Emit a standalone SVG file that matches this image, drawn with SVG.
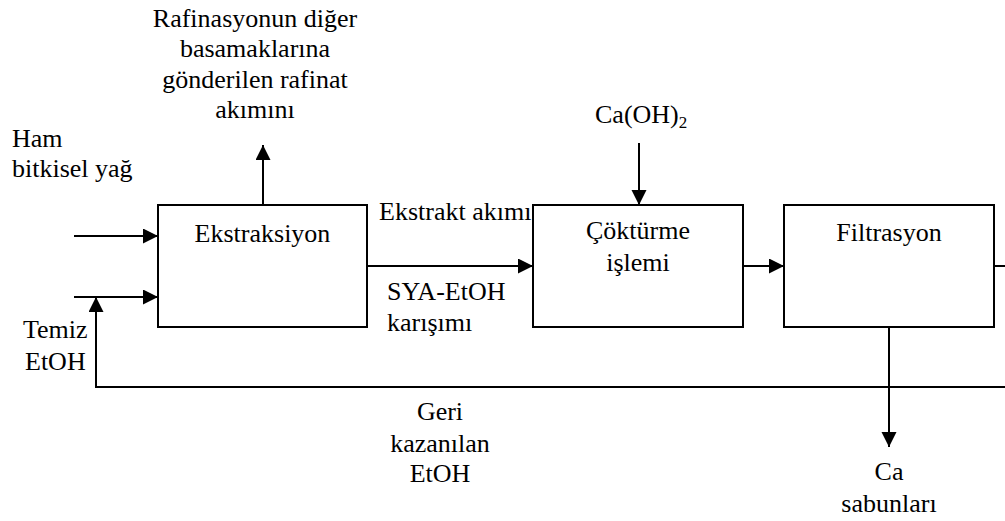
<svg xmlns="http://www.w3.org/2000/svg" width="1005" height="521" viewBox="0 0 1005 521">
  <style>
    text { font-family: 'Liberation Serif', 'Times New Roman', serif; font-size: 26px; fill: #000; }
    .c { text-anchor: middle; }
    .sub { font-size: 17px; }
    .box { fill: #fff; stroke: #000; stroke-width: 2; }
    .ln { fill: none; stroke: #000; stroke-width: 2; }
    .arr { marker-end: url(#ah); }
  </style>
  <defs>
    <marker id="ah" markerUnits="userSpaceOnUse" markerWidth="16" markerHeight="16" refX="15" refY="7.5" orient="auto">
      <path d="M0,0 L15,7.5 L0,15 Z" fill="#000"/>
    </marker>
  </defs>
  <rect width="1005" height="521" fill="#fff"/>

  <g id="labels">
    <text class="c" x="255" y="27">Rafinasyonun diğer</text>
    <text class="c" x="255" y="57">basamaklarına</text>
    <text class="c" x="255" y="88">gönderilen rafinat</text>
    <text class="c" x="255" y="118">akımını</text>
    <text x="12" y="147">Ham</text>
    <text x="12" y="177">bitkisel yağ</text>
    <text x="595" y="123">Ca(OH)<tspan class="sub" dy="5">2</tspan></text>
    <text x="379" y="220">Ekstrakt akımı</text>
    <text x="387" y="300">SYA-EtOH</text>
    <text x="387" y="331">karışımı</text>
    <text x="23" y="338">Temiz</text>
    <text x="25" y="370">EtOH</text>
    <text class="c" x="440" y="420">Geri</text>
    <text class="c" x="440" y="452">kazanılan</text>
    <text class="c" x="440" y="482">EtOH</text>
    <text class="c" x="889" y="480">Ca</text>
    <text class="c" x="889" y="512">sabunları</text>
  </g>

  <g id="connectors">
    <line class="ln arr" x1="74" y1="236" x2="158" y2="236"/>
    <line class="ln arr" x1="74" y1="297" x2="158" y2="297"/>
    <polyline class="ln arr" points="1005,387 96,387 96,297"/>
    <line class="ln" x1="994" y1="266" x2="1005" y2="266"/>
    <line class="ln arr" x1="263" y1="205" x2="263" y2="145"/>
    <line class="ln arr" x1="367" y1="266" x2="533" y2="266"/>
    <line class="ln arr" x1="743" y1="266" x2="784" y2="266"/>
    <line class="ln arr" x1="639" y1="143" x2="639" y2="205"/>
    <line class="ln arr" x1="889" y1="327" x2="889" y2="447"/>
  </g>

  <g id="ekstraksiyon">
    <rect class="box" x="158" y="205" width="209" height="122"/>
    <text class="c" x="262.5" y="242">Ekstraksiyon</text>
  </g>
  <g id="cokturme">
    <rect class="box" x="533" y="205" width="210" height="122"/>
    <text class="c" x="638" y="239">Çöktürme</text>
    <text class="c" x="638" y="271">işlemi</text>
  </g>
  <g id="filtrasyon">
    <rect class="box" x="784" y="205" width="210" height="122"/>
    <text class="c" x="889" y="241">Filtrasyon</text>
  </g>
</svg>
